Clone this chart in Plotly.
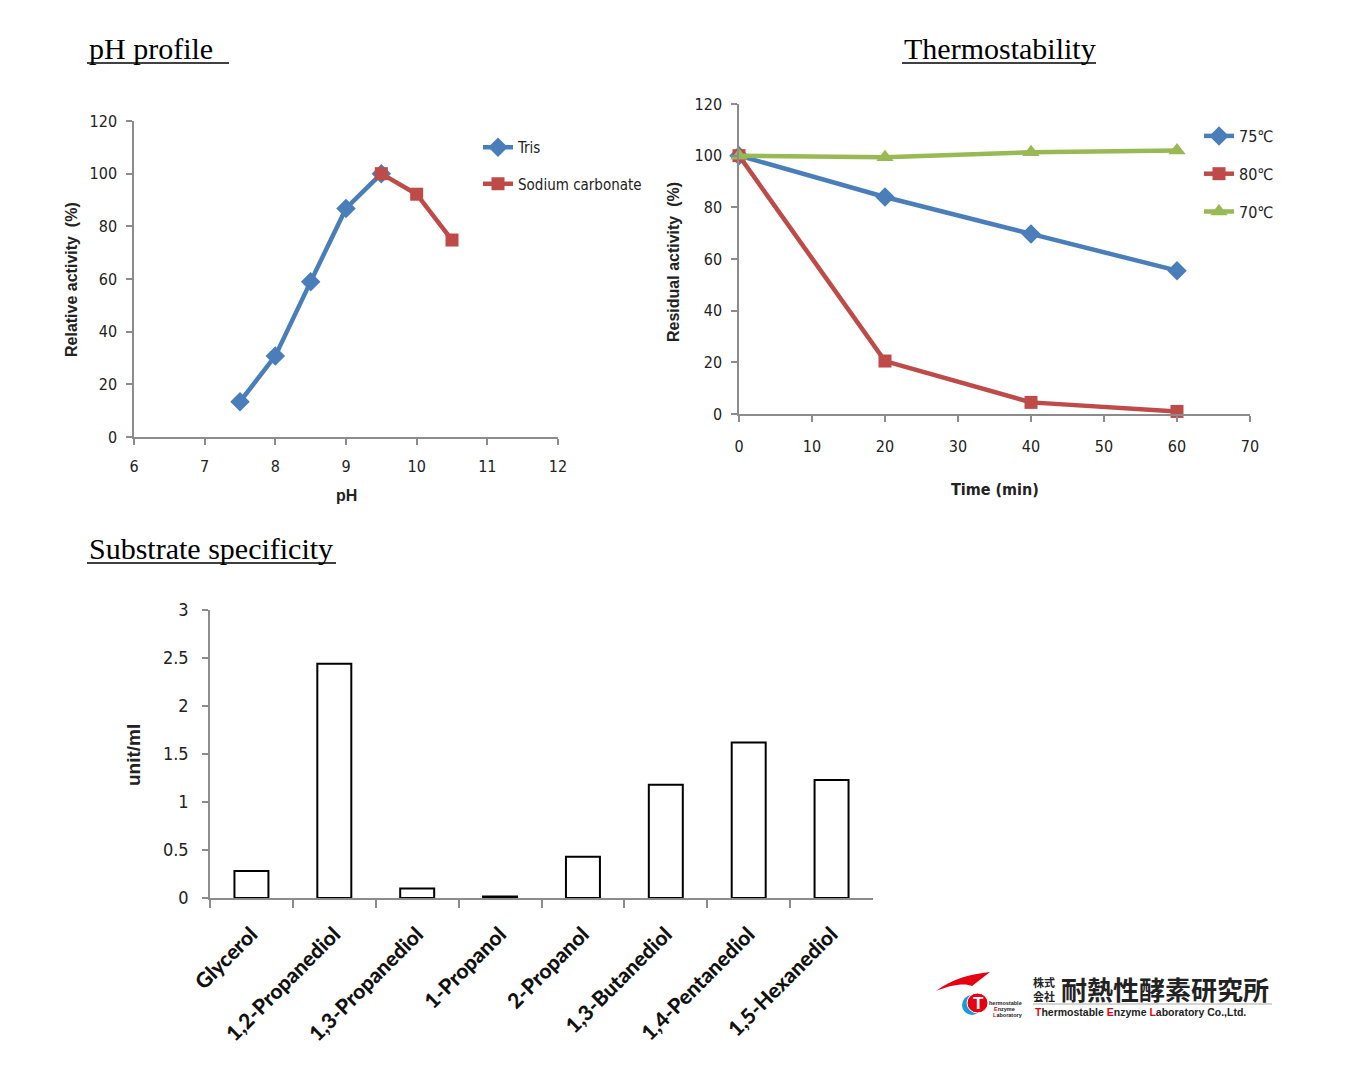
import plotly.graph_objects as go

W, H = 1365, 1079

# pH profile
ph_tris = [7.5, 8, 8.5, 9, 9.5]
act_tris = [13.4, 30.8, 59, 86.8, 100]
ph_carb = [9.5, 10, 10.5]
act_carb = [100, 92.2, 74.8]

# thermostability
time_min = [0, 20, 40, 60]
res_75 = [100, 84, 69.7, 55.5]
res_80 = [100, 20.5, 4.5, 1]
res_70 = [100, 99.4, 101.3, 102]

# substrate specificity
substrates = ['Glycerol', '1,2-Propanediol', '1,3-Propanediol', '1-Propanol',
              '2-Propanol', '1,3-Butanediol', '1,4-Pentanediol', '1,5-Hexanediol']
unit_ml = [0.28, 2.44, 0.10, 0.015, 0.43, 1.18, 1.62, 1.23]

BLUE = '#4a7ebb'
RED = '#be4b48'
GREEN = '#98b954'
AX = '#8c8c8c'
LOGO_RED = '#e60012'
NARROW = 'Liberation Sans Narrow, DejaVu Sans Condensed, Arial Narrow, sans-serif'
SANS = 'Liberation Sans, Arial, sans-serif'
SERIF = 'Liberation Serif, Times New Roman, serif'


def px(x):
    return x / W


def py(y):
    return 1 - y / H


def axis(**kw):
    d = dict(showline=True, linecolor=AX, linewidth=1.5, ticks='outside',
             tickcolor=AX, tickwidth=1.5, ticklen=6, showgrid=False,
             zeroline=False, automargin=False,
             tickfont=dict(family=NARROW, size=16, color='#222'),
             fixedrange=True)
    d.update(kw)
    return d


fig = go.Figure()

fig.add_trace(go.Scatter(x=ph_tris, y=act_tris, name='Tris', mode='lines+markers',
                         line=dict(color=BLUE, width=4.5),
                         marker=dict(symbol='diamond', size=15, color=BLUE),
                         xaxis='x', yaxis='y', legend='legend', legendgroup='a',
                         cliponaxis=False))
fig.add_trace(go.Scatter(x=ph_carb, y=act_carb, name='Sodium carbonate', mode='lines+markers',
                         line=dict(color=RED, width=4.5),
                         marker=dict(symbol='square', size=13, color=RED),
                         xaxis='x', yaxis='y', legend='legend', legendgroup='b',
                         cliponaxis=False))

for name, vals, col, sym, sz, grp in [('75℃', res_75, BLUE, 'diamond', 15, 'c'),
                                      ('80℃', res_80, RED, 'square', 13, 'd'),
                                      ('70℃', res_70, GREEN, 'triangle-up', 15, 'e')]:
    fig.add_trace(go.Scatter(x=time_min, y=vals, name=name, mode='lines+markers',
                             line=dict(color=col, width=4.5),
                             marker=dict(symbol=sym, size=sz, color=col),
                             xaxis='x2', yaxis='y2', legend='legend2', legendgroup=grp,
                             cliponaxis=False))

fig.add_trace(go.Bar(x=substrates, y=unit_ml, xaxis='x3', yaxis='y3', showlegend=False,
                     marker=dict(color='white', line=dict(color='black', width=2)),
                     width=0.41))


def red(ch):
    return f'<span style="color:{LOGO_RED}">{ch}</span>'


annotations = [
    dict(text='pH profile', x=px(87), y=py(48), xanchor='left',
         font=dict(family=SERIF, size=30, color='black')),
    dict(text='Thermostability', x=px(902), y=py(48), xanchor='left',
         font=dict(family=SERIF, size=30, color='black')),
    dict(text='Substrate specificity', x=px(87), y=py(548), xanchor='left',
         font=dict(family=SERIF, size=30, color='black')),
    dict(text='<b>Relative activity  (%)</b>', x=px(72), y=py(280), textangle=-90,
         font=dict(family=SANS, size=16, color='#222')),
    dict(text='<b>pH</b>', x=px(346), y=py(495), font=dict(family=SANS, size=16, color='#222')),
    dict(text='<b>Residual activity  (%)</b>', x=px(673), y=py(262), textangle=-90,
         font=dict(family=SANS, size=16, color='#222')),
    dict(text='<b>Time (min)</b>', x=px(995), y=py(489),
         font=dict(family=NARROW, size=16, color='#222')),
    dict(text='<b>unit/ml</b>', x=px(133), y=py(755), textangle=-90,
         font=dict(family=SANS, size=19, color='#222')),
    # logo texts
    dict(text='<b>株式<br>会社</b>', x=px(1044), y=py(989),
         font=dict(family='Noto Sans CJK JP', size=11, color='#222')),
    dict(text='<b>耐熱性酵素研究所</b>', x=px(1059), y=py(988), xanchor='left',
         font=dict(family='Noto Sans CJK JP', size=26, color='#222')),
    dict(text='<b>' + red('T') + 'hermostable ' + red('E') + 'nzyme ' + red('L')
              + 'aboratory Co.,Ltd.</b>',
         x=px(1033), y=py(1012), xanchor='left',
         font=dict(family=SANS, size=10.5, color='#222')),
    dict(text='<b>T</b>', x=px(978), y=py(1003),
         font=dict(family=SANS, size=17, color='white')),
    dict(text='<b>hermostable</b>', x=px(987), y=py(1003), xanchor='left',
         font=dict(family=SANS, size=5.5, color='#222')),
    dict(text='<b>' + red('E') + 'nzyme</b>', x=px(992), y=py(1009), xanchor='left',
         font=dict(family=SANS, size=5.5, color='#222')),
    dict(text='<b>' + red('L') + 'aboratory</b>', x=px(991), y=py(1015), xanchor='left',
         font=dict(family=SANS, size=5.5, color='#222')),
]
for a in annotations:
    a.setdefault('xanchor', 'center')
    a.setdefault('yanchor', 'middle')
    a.update(xref='paper', yref='paper', showarrow=False)

shapes = [
    dict(type='line', x0=px(87), x1=px(229), y0=py(63), y1=py(63)),
    dict(type='line', x0=px(902), x1=px(1096), y0=py(63), y1=py(63)),
    dict(type='line', x0=px(87), x1=px(336), y0=py(563), y1=py(563)),
]
for s in shapes:
    s.update(xref='paper', yref='paper', line=dict(color='black', width=1.5))

# logo shapes, drawn on a hidden full-page axis pair in pixel units
logo = [
    dict(type='path',
         path='M 936 991 C 952 979 970 974 990 972 L 972 986 C 966 983 952 984 936 991 Z',
         fillcolor=LOGO_RED, line=dict(width=0)),
    dict(type='circle', x0=962, x1=982, y0=995, y1=1015,
         fillcolor='#1a9ad6', line=dict(width=0)),
    dict(type='circle', x0=967, x1=988, y0=993, y1=1013,
         fillcolor=LOGO_RED, line=dict(color='white', width=1)),
    dict(type='line', x0=1033, x1=1272, y0=1004, y1=1004,
         line=dict(color='#aaaaaa', width=1)),
]
for s in logo:
    s.update(xref='x4', yref='y4')
shapes += logo

fig.update_layout(
    width=W, height=H, margin=dict(l=0, r=0, t=0, b=0, autoexpand=False),
    paper_bgcolor='white', plot_bgcolor='rgba(0,0,0,0)',
    showlegend=True,
    xaxis=axis(domain=[px(134), px(558)], range=[6, 12], dtick=1, anchor='y',
               ticklabelstandoff=8),
    yaxis=axis(domain=[py(437), py(121)], range=[0, 120], dtick=20, anchor='x',
               ticklabelstandoff=6),
    xaxis2=axis(domain=[px(739), px(1250)], range=[0, 70], dtick=10, anchor='y2',
                ticklabelstandoff=11),
    yaxis2=axis(domain=[py(414), py(104)], range=[0, 120], dtick=20, anchor='x2',
                ticklabelstandoff=6),
    xaxis3=axis(domain=[px(210), px(873)], type='category', anchor='y3',
                tickson='boundaries', ticklen=8, tickangle=-45,
                tickfont=dict(family='Lato, Liberation Sans, sans-serif', size=21,
                              color='#111', weight=900),
                ticklabelstandoff=14),
    yaxis3=axis(domain=[py(898), py(610)], range=[0, 3], dtick=0.5, anchor='x3',
                ticklabelstandoff=10, tickfont=dict(family=NARROW, size=18, color='#222')),
    xaxis4=dict(domain=[0, 1], range=[0, W], visible=False, anchor='y4', fixedrange=True),
    yaxis4=dict(domain=[0, 1], range=[H, 0], visible=False, anchor='x4', fixedrange=True),
    legend=dict(x=px(478), y=py(131), xanchor='left', yanchor='top',
                traceorder='grouped', tracegroupgap=14, bgcolor='rgba(0,0,0,0)',
                font=dict(family=NARROW, size=15, color='#222'), itemwidth=30),
    legend2=dict(x=px(1199), y=py(119), xanchor='left', yanchor='top',
                 traceorder='grouped', tracegroupgap=14, bgcolor='rgba(0,0,0,0)',
                 font=dict(family=NARROW, size=16, color='#222'), itemwidth=30),
    annotations=annotations,
    shapes=shapes,
)

fig.write_html('out.html', config={'displayModeBar': False},
               post_script="document.body.style.margin='0';")
